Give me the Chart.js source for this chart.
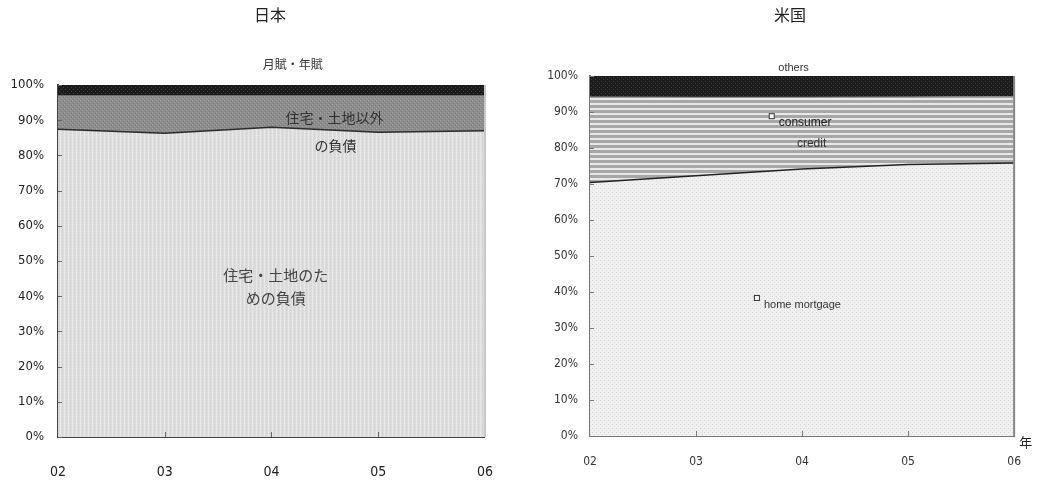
<!DOCTYPE html>
<html>
<head>
<meta charset="utf-8">
<script src="https://cdn.jsdelivr.net/npm/chart.js@4/dist/chart.umd.min.js"></script>
<style>
  html, body { margin: 0; padding: 0; background: #fff; }
  #wrap { position: relative; width: 1040px; height: 481px; }
  canvas { position: absolute; top: 0; }
  #cJP { left: 0; }
  #cUS { left: 520px; }
</style>
</head>
<body>
<div id="wrap">
  <canvas id="cJP" width="520" height="481"></canvas>
  <canvas id="cUS" width="520" height="481"></canvas>
</div>
<script>
// Years on the horizontal axis
const years = ['02', '03', '04', '05', '06'];
const yTicks = [0, 10, 20, 30, 40, 50, 60, 70, 80, 90, 100];

// Japan: composition of household debt (%)
const jpHousing = [87.4, 86.3, 88.0, 86.6, 87.0];      // 住宅・土地のための負債
const jpNonHousing = [9.6, 10.7, 9.0, 10.4, 10.0];     // 住宅・土地以外の負債
const jpInstallment = [3.0, 3.0, 3.0, 3.0, 3.0];       // 月賦・年賦

// United States: composition of household debt (%)
const usMortgage = [70.4, 72.3, 74.2, 75.4, 75.8];     // home mortgage
const usConsumer = [23.8, 21.8, 19.9, 18.8, 18.5];     // consumer credit
const usOthers = [5.8, 5.9, 5.9, 5.8, 5.7];            // others

// Small repeating tiles used as hatched fills
function tile(w, h, base, dots) {
  const c = document.createElement('canvas');
  c.width = w; c.height = h;
  const g = c.getContext('2d');
  g.fillStyle = base; g.fillRect(0, 0, w, h);
  dots.forEach(d => { g.fillStyle = d[4]; g.fillRect(d[0], d[1], d[2], d[3]); });
  return g.createPattern(c, 'repeat');
}
const patJpLow = tile(4, 3, '#dcdcdc', [[0, 0, 1, 3, '#e8e8e8'], [2, 1, 1, 1, '#d0d0d0']]);
const patJpMid = tile(4, 4, '#8d8d8d', [[0, 0, 1, 1, '#a2a2a2'], [2, 2, 1, 1, '#a2a2a2'], [1, 3, 1, 1, '#7a7a7a'], [3, 1, 1, 1, '#7a7a7a']]);
const patBlack = tile(4, 4, '#1c1c1c', [[1, 1, 1, 1, '#3c3c3c'], [3, 3, 1, 1, '#3c3c3c']]);
const patUsLow = tile(4, 4, '#f0f0f0', [[0, 0, 1, 1, '#d2d2d2'], [2, 2, 1, 1, '#dcdcdc']]);
const patUsMid = tile(1, 5, '#a7a7a7', [[0, 3, 1, 2, '#e8e8e8']]);

// Labels placed in data coordinates (category index, percent) and inward tick marks
const overlay = {
  id: 'overlay',
  afterDraw(chart, args, opts) {
    const ctx = chart.ctx;
    const xs = chart.scales.x, ys = chart.scales.y;
    const a = chart.chartArea;
    ctx.save();
    // inward ticks
    ctx.strokeStyle = opts.tickColor;
    ctx.lineWidth = 1;
    ys.ticks.forEach((t, i) => {
      const py = Math.round(ys.getPixelForTick(i)) + 0.5;
      ctx.beginPath(); ctx.moveTo(a.left, py); ctx.lineTo(a.left + 4, py); ctx.stroke();
    });
    xs.ticks.forEach((t, i) => {
      if (i === 0 || i === xs.ticks.length - 1) return;
      const px = Math.round(xs.getPixelForTick(i)) + 0.5;
      ctx.beginPath(); ctx.moveTo(px, a.bottom); ctx.lineTo(px, a.bottom - 5); ctx.stroke();
    });
    // title
    ctx.fillStyle = '#222';
    ctx.font = '16px "Noto Sans CJK JP", sans-serif';
    ctx.textAlign = 'center'; ctx.textBaseline = 'middle';
    ctx.fillText(opts.title, opts.titleX, 15);
    // labels
    opts.labels.forEach(l => {
      const px = xs.getPixelForValue(l.x);
      const py = ys.getPixelForValue(l.y);
      ctx.font = l.font;
      ctx.fillStyle = l.color || '#333';
      ctx.textAlign = l.align || 'center';
      ctx.textBaseline = 'middle';
      if (l.marker) {
        ctx.strokeStyle = '#333'; ctx.lineWidth = 1;
        ctx.fillStyle = '#fff';
        ctx.fillRect(px - 9.5, py - 9.5, 5, 5);
        ctx.strokeRect(px - 9.5, py - 9.5, 5, 5);
        ctx.fillStyle = l.color || '#333';
      }
      ctx.fillText(l.text, px, py);
    });
    if (opts.unit) {
      ctx.font = '13px "Noto Sans CJK JP", sans-serif';
      ctx.fillStyle = '#222'; ctx.textAlign = 'left';
      ctx.fillText(opts.unit, a.right + 5, a.bottom + 6);
    }
    ctx.restore();
  }
};

function makeChart(id, sets, cfg) {
  return new Chart(document.getElementById(id), {
    type: 'line',
    data: {
      labels: years,
      datasets: sets.map((s, i) => ({
        data: s.data,
        backgroundColor: s.fill,
        borderColor: s.line,
        borderWidth: s.width,
        fill: i === 0 ? 'origin' : '-1',
        pointRadius: 0,
        tension: 0
      }))
    },
    options: {
      responsive: false,
      animation: false,
      layout: { padding: { top: cfg.top, right: cfg.right, left: 0, bottom: 0 } },
      plugins: { legend: { display: false }, tooltip: { enabled: false }, overlay: cfg.overlay },
      scales: {
        x: {
          offset: false,
          grid: { display: false, drawTicks: false },
          border: { display: true, color: cfg.axisColor, width: 2 },
          ticks: { padding: cfg.xPad, color: cfg.tickColor, font: cfg.xFont, maxRotation: 0 },
          afterFit(s) { s.height = 481 - cfg.bottom; }
        },
        y: {
          stacked: true,
          min: 0, max: 100,
          afterBuildTicks(s) { s.ticks = yTicks.map(v => ({ value: v })); },
          grid: { display: false, drawTicks: false },
          border: { display: true, color: cfg.axisColor, width: 2 },
          ticks: { padding: cfg.yPad, color: cfg.tickColor, font: cfg.yFont, callback: v => v + '%' },
          afterFit(s) { s.width = cfg.left; }
        }
      }
    },
    plugins: [overlay, {
      id: 'frameRight',
      afterDatasetsDraw(chart) {
        const a = chart.chartArea, ctx = chart.ctx;
        ctx.save();
        ctx.strokeStyle = cfg.rightEdge; ctx.lineWidth = 2;
        ctx.beginPath(); ctx.moveTo(a.right, a.top); ctx.lineTo(a.right, a.bottom); ctx.stroke();
        ctx.restore();
      }
    }]
  });
}

const cjk = '"Noto Sans CJK JP", sans-serif';
const cond = '"DejaVu Sans Condensed", "Liberation Sans Narrow", sans-serif';

makeChart('cJP', [
  { data: jpHousing, fill: patJpLow, line: '#2a2a2a', width: 1.5 },
  { data: jpNonHousing, fill: patJpMid, line: '#6a6a6a', width: 1 },
  { data: jpInstallment, fill: patBlack, line: '#1c1c1c', width: 1 }
], {
  top: 85, right: 35, left: 58, bottom: 437,
  xPad: 27, yPad: 14, axisColor: '#444', rightEdge: '#c8c8c8', tickColor: '#222',
  yFont: { family: cond, size: 13 },
  xFont: { family: cond, size: 14 },
  overlay: {
    title: '日本', titleX: 270, tickColor: '#666',
    labels: [
      { text: '月賦・年賦', x: 2.2, y: 105.7, font: '12px ' + cjk, color: '#333' },
      { text: '住宅・土地以外', x: 2.59, y: 90.6, font: '14px ' + cjk, color: '#333' },
      { text: 'の負債', x: 2.6, y: 82.7, font: '14px ' + cjk, color: '#333' },
      { text: '住宅・土地のた', x: 2.04, y: 46.0, font: '15px ' + cjk, color: '#444' },
      { text: 'めの負債', x: 2.04, y: 39.5, font: '15px ' + cjk, color: '#444' }
    ]
  }
});

makeChart('cUS', [
  { data: usMortgage, fill: patUsLow, line: '#222', width: 1.5 },
  { data: usConsumer, fill: patUsMid, line: '#888', width: 1 },
  { data: usOthers, fill: patBlack, line: '#1c1c1c', width: 1 }
], {
  top: 76, right: 23, left: 70, bottom: 436,
  xPad: 19, yPad: 12, axisColor: '#777', rightEdge: '#888', tickColor: '#333',
  yFont: { family: cond, size: 12 },
  xFont: { family: cond, size: 12 },
  overlay: {
    title: '米国', titleX: 270, tickColor: '#777', unit: '年',
    labels: [
      { text: 'others', x: 1.92, y: 102.2, font: '11px "Liberation Sans", sans-serif', color: '#333' },
      { text: 'consumer', x: 1.78, y: 86.9, font: '12px "Liberation Sans", sans-serif', color: '#222', align: 'left', marker: true },
      { text: 'credit', x: 2.09, y: 81.1, font: '12px "Liberation Sans", sans-serif', color: '#333' },
      { text: 'home mortgage', x: 1.64, y: 36.4, font: '11px "Liberation Sans", sans-serif', color: '#333', align: 'left', marker: true }
    ]
  }
});
</script>
</body>
</html>
